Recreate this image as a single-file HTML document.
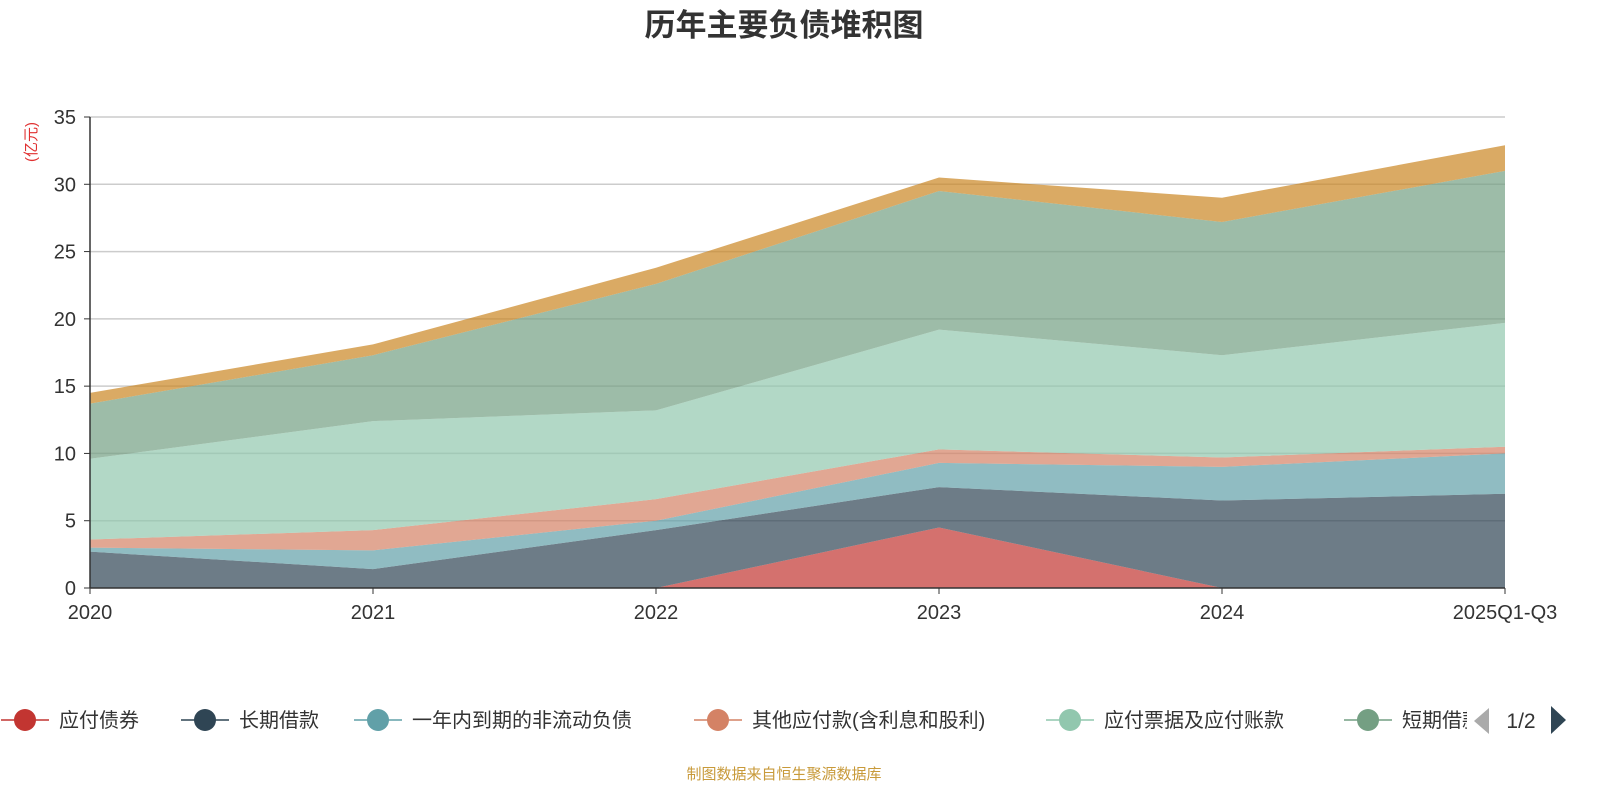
<!DOCTYPE html>
<html><head><meta charset="utf-8">
<style>
body{margin:0;background:#fff;}
svg{display:block;font-family:"Liberation Sans","Noto Sans CJK SC",sans-serif;}
</style></head>
<body>
<svg id="chart" width="1600" height="800">
<text x="784" y="36" text-anchor="middle" font-size="31" font-weight="bold" fill="#333">历年主要负债堆积图</text>
<text transform="translate(36,142) rotate(-90)" text-anchor="middle" font-size="15" fill="#e03030">(亿元)</text>
<g id="grid"></g>
<g id="areas"></g>
<g id="axes"></g>
<g id="legend"></g>
<text x="784" y="779" text-anchor="middle" font-size="15" fill="#c89a3a">制图数据来自恒生聚源数据库</text>
</svg>
<script>
const categories=["2020","2021","2022","2023","2024","2025Q1-Q3"];
const seriesNames=["应付债券","长期借款","一年内到期的非流动负债","其他应付款(含利息和股利)","应付票据及应付账款","短期借款","合同负债"];
const s0=[0,0,0,4.5,0,0];
const s1=[2.7,1.4,4.3,3.0,6.5,7.0];
const s2=[0.3,1.4,0.7,1.8,2.5,3.0];
const s3=[0.6,1.5,1.6,1.0,0.7,0.5];
const s4=[6.0,8.1,6.6,8.9,7.6,9.2];
const s5=[4.1,4.9,9.4,10.3,9.9,11.3];
const s6=[0.8,0.8,1.2,1.0,1.8,1.9];
const yTicks=[0,5,10,15,20,25,30,35];
const series=[s0,s1,s2,s3,s4,s5,s6];
const colors=["#c23531","#2f4554","#61a0a8","#d48265","#91c7ae","#749f83","#ca8622"];
const NS="http://www.w3.org/2000/svg";
const x0=90,x1=1505,yb=588,yt=117,ymax=35;
const X=i=>x0+i*(x1-x0)/(categories.length-1);
const Y=v=>yb-v*(yb-yt)/ymax;
function mk(tag,attrs,parent){const e=document.createElementNS(NS,tag);for(const k in attrs)e.setAttribute(k,attrs[k]);parent.appendChild(e);return e;}
const grid=document.getElementById('grid'),axes=document.getElementById('axes'),areas=document.getElementById('areas'),legend=document.getElementById('legend');
yTicks.forEach(t=>{
  if(t>0){const l=mk('line',{x1:x0,x2:x1,y1:Y(t),y2:Y(t),stroke:'#ccc','stroke-width':1.5},grid);
  
  }
  const tx=mk('text',{x:x0-14,y:Y(t)+7,'text-anchor':'end','font-size':20,fill:'#333'},axes);tx.textContent=t;
  
  
  mk('line',{x1:x0-6,x2:x0,y1:Y(t),y2:Y(t),stroke:'#333'},axes);
});
let cum=categories.map(()=>0);
series.forEach((s,k)=>{
  const lo=cum.slice();cum=cum.map((c,i)=>c+s[i]);
  let d='M'+cum.map((v,i)=>X(i)+','+Y(v)).join(' L');
  for(let i=categories.length-1;i>=0;i--)d+=' L'+X(i)+','+Y(lo[i]);
  const p=mk('path',{d:d+'Z',fill:colors[k],'fill-opacity':0.7,stroke:'none'},areas);
  
  
});
mk('line',{x1:x0,x2:x0,y1:yt,y2:yb,stroke:'#333','stroke-width':1.5},axes);
mk('line',{x1:x0,x2:x1,y1:yb,y2:yb,stroke:'#333','stroke-width':1.5},axes);
categories.forEach((c,i)=>{
  mk('line',{x1:X(i),x2:X(i),y1:yb,y2:yb+6,stroke:'#333'},axes);
  const t=mk('text',{x:X(i),y:yb+31,'text-anchor':'middle','font-size':20,fill:'#333'},axes);t.textContent=c;
  
  
});
const lx=[25,205,378,718,1070,1368];
lx.forEach((x,k)=>{
  const g=mk('g',{},legend);
  
  
  mk('line',{x1:x-24,x2:x+24,y1:720,y2:720,stroke:colors[k],'stroke-width':1.5},g);
  mk('circle',{cx:x,cy:720,r:11,fill:colors[k]},g);
  const t=mk('text',{x:x+34,y:727,'font-size':20,fill:'#333'},g);t.textContent=seriesNames[k];
});
mk('rect',{x:1467,y:700,width:133,height:40,fill:'#fff'},legend);
const pl=mk('path',{d:'M1489,708 L1489,734 L1474,721Z',fill:'#aaa'},legend);


const pt=mk('text',{x:1521,y:728,'text-anchor':'middle','font-size':21,fill:'#333'},legend);pt.textContent='1/2';


const pn=mk('path',{d:'M1551,706 L1551,734 L1566,720Z',fill:'#2f4554'},legend);


</script>
</body></html>
